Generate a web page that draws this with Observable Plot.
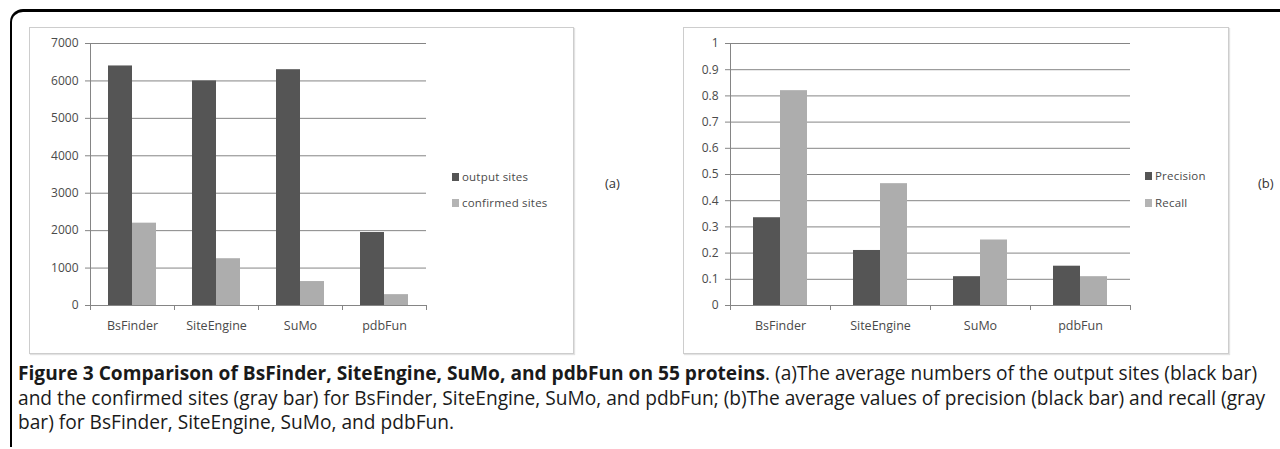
<!DOCTYPE html>
<html><head><meta charset="utf-8">
<script src="https://cdn.jsdelivr.net/npm/d3@7"></script>
<script src="https://cdn.jsdelivr.net/npm/@observablehq/plot@0.6"></script>
<style>
body{margin:0;background:#fff;}
#page{position:relative;width:1280px;height:449px;overflow:hidden;font-family:"Open Sans",sans-serif;background:#fff;}
#frame{position:absolute;left:10px;top:9px;width:1300px;height:438px;border-left:2px solid #000;border-top:3px solid #000;border-top-left-radius:13px;box-sizing:border-box;}
.panel{position:absolute;border:1px solid #cdcdcd;box-shadow:1px 1px 1px #e2e2e2;background:#fff;box-sizing:border-box;}
.chart{position:absolute;}
.leg{position:absolute;font:11.5px "Open Sans",sans-serif;letter-spacing:0.2px;color:#4a4a4a;white-space:nowrap;line-height:14px;}
.sw{display:inline-block;width:7px;height:8px;margin-right:3px;vertical-align:0px}
.lab{position:absolute;font:13px "Open Sans",sans-serif;color:#333;white-space:nowrap;}
.cap{position:absolute;left:18px;font-size:15px;line-height:18px;white-space:nowrap;color:#1a1a1a;transform-origin:0 50%;}
.cap b{font-weight:700;}
</style></head>
<body>
<div id="page">
  <div id="frame"></div>
  <div class="panel" style="left:29px;top:27px;width:545px;height:327px;"></div>
  <div class="panel" style="left:683px;top:27px;width:546px;height:327px;"></div>
  <div id="chartA" class="chart" style="left:29px;top:27px;"></div>
  <div id="chartB" class="chart" style="left:683px;top:27px;"></div>
  <div class="leg" style="left:452px;top:170px;"><span class="sw" style="background:#555"></span>output sites</div>
  <div class="leg" style="left:452px;top:196px;"><span class="sw" style="background:#b4b4b4"></span>confirmed sites</div>
  <div class="lab" style="left:605px;top:174px;">(a)</div>
  <div class="leg" style="left:1145px;top:169px;"><span class="sw" style="background:#555"></span>Precision</div>
  <div class="leg" style="left:1145px;top:196px;"><span class="sw" style="background:#b4b4b4"></span>Recall</div>
  <div class="lab" style="left:1258px;top:174px;">(b)</div>
  <div class="cap" id="c1" style="top:364px;"><b>Figure 3 Comparison of BsFinder, SiteEngine, SuMo, and pdbFun on 55 proteins</b>. (a)The average numbers of the output sites (black bar)</div>
  <div class="cap" id="c2" style="top:389px;">and the confirmed sites (gray bar) for BsFinder, SiteEngine, SuMo, and pdbFun; (b)The average values of precision (black bar) and recall (gray</div>
  <div class="cap" id="c3" style="top:413px;">bar) for BsFinder, SiteEngine, SuMo, and pdbFun.</div>
</div>
<script>
const categories = ["BsFinder", "SiteEngine", "SuMo", "pdbFun"];
const outputSites = [6400, 6000, 6300, 1950];
const confirmedSites = [2200, 1250, 640, 290];
const precision = [0.335, 0.21, 0.11, 0.15];
const recall = [0.82, 0.465, 0.25, 0.11];
const sitesTicks = [0, 1000, 2000, 3000, 4000, 5000, 6000, 7000];
const rateTicks = [0, 0.1, 0.2, 0.3, 0.4, 0.5, 0.6, 0.7, 0.8, 0.9, 1];

function barChart({v1, v2, ticks, yMax, marginLeft, plotWidth, barWidth, fmt}) {
  const rows = categories.map((c, i) => ({cat: c, a: v1[i], b: v2[i]}));
  const band = plotWidth / categories.length;
  const side = band / 2 - barWidth;
  const marginRight = 10;
  const gray = "#858585";
  return Plot.plot({
    width: marginLeft + plotWidth + marginRight,
    height: 318,
    marginLeft, marginRight, marginTop: 16, marginBottom: 40,
    style: {fontFamily: "'Open Sans', sans-serif", fontSize: "12px", color: "#4a4a4a", background: "transparent", overflow: "visible"},
    x: {domain: categories, padding: 0, axis: null, label: null},
    y: {domain: [0, yMax], axis: null, label: null},
    marks: [
      Plot.gridY(ticks, {stroke: gray, strokeOpacity: 1, strokeWidth: 1}),
      Plot.axisY(ticks, {tickSize: 5, tickPadding: 7, stroke: gray, strokeOpacity: 1, tickFormat: fmt, fill: "#4a4a4a", fontSize: 12, label: null}),
      Plot.barY(rows, {x: "cat", y: "a", fill: "#555", insetLeft: side, insetRight: band / 2}),
      Plot.barY(rows, {x: "cat", y: "b", fill: "#adadad", insetLeft: band / 2, insetRight: side}),
      Plot.ruleY([0], {stroke: gray}),
      Plot.ruleX([categories[0]], {dx: -band / 2, y1: 0, y2: yMax, stroke: gray}),
      Plot.ruleX(categories, {dx: -band / 2, y1: 0, y2: 0, insetBottom: -5, stroke: gray}),
      Plot.ruleX([categories[categories.length - 1]], {dx: band / 2, y1: 0, y2: 0, insetBottom: -5, stroke: gray}),
      Plot.axisX({tickSize: 0, tickPadding: 16, fill: "#4a4a4a", fontSize: 12.5, label: null})
    ]
  });
}

document.getElementById("chartA").append(barChart({
  v1: outputSites, v2: confirmedSites, ticks: sitesTicks, yMax: 7000,
  marginLeft: 61, plotWidth: 336, barWidth: 24, fmt: d3.format("d")
}));
document.getElementById("chartB").append(barChart({
  v1: precision, v2: recall, ticks: rateTicks, yMax: 1,
  marginLeft: 47, plotWidth: 400, barWidth: 27, fmt: d3.format("~g")
}));

// fit caption: font size from line 2, then compress the bold first line if needed
const c1 = document.getElementById("c1"), c2 = document.getElementById("c2"), c3 = document.getElementById("c3");
const fs = 15 * 1248 / c2.getBoundingClientRect().width;
for (const el of [c1, c2, c3]) el.style.fontSize = fs + "px";
const w1 = c1.getBoundingClientRect().width;
if (w1 > 1259) c1.style.transform = `scaleX(${1259 / w1})`;
</script>
</body></html>
